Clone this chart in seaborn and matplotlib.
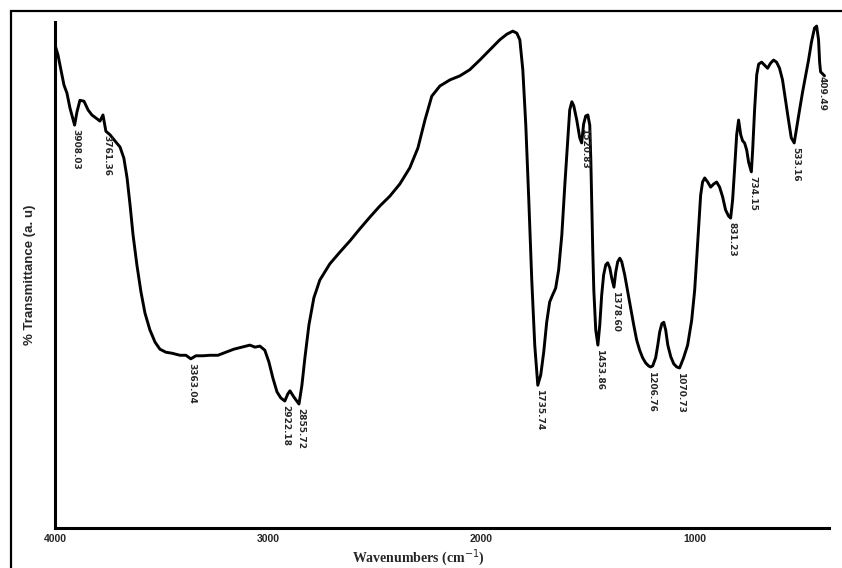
import matplotlib
matplotlib.use("Agg")
import matplotlib.pyplot as plt
import seaborn as sns
import pandas as pd
from matplotlib.patches import Rectangle

# FTIR spectrum: wavenumber (cm-1) and transmittance (a.u.)
wavenumber = [
    4000, 3986, 3972, 3958, 3944, 3930, 3908.03, 3897, 3883, 3864, 3845, 3827,
    3808, 3789, 3775, 3761.36, 3742, 3719, 3695, 3677, 3662, 3648, 3634, 3616,
    3597, 3578, 3555, 3531, 3508, 3480, 3451, 3414, 3386, 3363.04, 3339, 3306,
    3273, 3236, 3198, 3161, 3123, 3086, 3062, 3039, 3016, 2997, 2978, 2959,
    2941, 2922.18, 2908, 2898, 2880, 2855.72, 2842, 2828, 2809, 2786, 2758,
    2711, 2664, 2617, 2570, 2523, 2476, 2430, 2383, 2336, 2298, 2265, 2233,
    2195, 2148, 2101, 2055, 2008, 1961, 1914, 1881, 1853, 1834, 1820, 1806,
    1792, 1778, 1764, 1750, 1735.74, 1722, 1708, 1694, 1680, 1666, 1652, 1638,
    1623, 1609, 1595, 1586, 1576, 1567, 1553, 1539, 1530, 1520.83, 1511, 1501,
    1492, 1487, 1483, 1478, 1473, 1464, 1453.86, 1445, 1436, 1427, 1417, 1408,
    1398, 1389, 1378.60, 1370, 1361, 1351, 1342, 1328, 1314, 1300, 1286, 1272,
    1258, 1244, 1230, 1216, 1206.76, 1197, 1183, 1173, 1164, 1154, 1145, 1136,
    1126, 1112, 1098, 1084, 1070.73, 1052, 1033, 1014, 1000, 991, 981, 972,
    963, 953, 939, 925, 911, 897, 883, 869, 855, 841, 831.23, 822, 813, 803,
    794, 784, 775, 766, 756, 747, 734.15, 728, 719, 709, 700, 686, 672, 658,
    644, 630, 616, 602, 588, 574, 560, 547, 533.16, 522, 508, 494, 480, 466,
    452, 438, 428, 419, 414, 409.49, 400, 391,
]
transmittance = [
    95.5, 93.5, 90.6, 87.6, 86.0, 83.1, 79.7, 82.3, 84.6, 84.4, 82.7, 81.7,
    81.1, 80.5, 81.7, 78.5, 77.8, 76.6, 75.4, 73.2, 69.3, 64.0, 58.1, 52.2,
    46.9, 42.7, 39.4, 37.0, 35.6, 35.0, 34.8, 34.4, 34.4, 33.7, 34.3, 34.3,
    34.4, 34.4, 35.0, 35.6, 36.0, 36.4, 36.0, 36.2, 35.4, 33.1, 29.9, 27.2,
    26.0, 25.4, 26.8, 27.4, 26.2, 24.8, 28.5, 33.9, 40.4, 45.7, 49.2,
    52.4, 54.7, 56.9, 59.3, 61.6, 63.8, 65.7, 68.1, 71.3, 75.2, 80.7, 85.4,
    87.4, 88.6, 89.4, 90.6, 92.5, 94.5, 96.5, 97.6, 98.2, 97.8, 96.5, 90.6,
    79.7, 65.0, 49.2, 36.4, 28.5, 30.5, 35.0, 40.9, 44.9, 46.3, 47.6, 51.2,
    58.1, 67.9, 76.8, 82.7, 84.3, 83.5, 80.7, 77.2, 76.2, 79.9, 81.5, 81.7,
    79.7, 72.8, 65.0, 55.1, 47.2, 39.4, 36.4, 40.4, 46.3, 50.2, 52.2, 52.6,
    51.6, 49.6, 47.8, 50.8, 52.8, 53.5, 52.8, 50.2, 46.9, 43.7, 40.4, 37.4,
    35.4, 33.9, 32.9, 32.3, 32.1, 32.3, 33.9, 36.4, 39.0, 40.6, 40.9, 39.4,
    36.4, 34.1, 32.7, 32.1, 31.9, 33.9, 36.4, 41.3, 47.2, 53.1, 60.0, 65.9,
    68.5, 69.3, 68.5, 67.5, 68.1, 68.5, 67.5, 65.6, 63.0, 61.8, 61.4, 65.0,
    70.9, 77.8, 80.7, 77.8, 76.6, 76.2, 74.8, 72.4, 70.5, 74.8, 82.7, 89.6,
    91.7, 92.1, 91.5, 90.9, 91.9, 92.5, 92.1, 90.9, 88.6, 84.6, 80.7, 77.2,
    76.2, 79.1, 82.7, 86.2, 89.4, 92.5, 96.1, 98.8, 99.2, 96.5, 92.1, 90.2,
    89.8, 89.4,
]

# Annotated band positions (cm-1)
peak_positions = [
    3908.03, 3761.36, 3363.04, 2922.18, 2855.72, 1735.74, 1520.83, 1453.86,
    1378.60, 1206.76, 1070.73, 831.23, 734.15, 533.16, 409.49,
]
peak_labels = [f"{p:.2f}" for p in peak_positions]

x_ticks = [4000, 3000, 2000, 1000]

df = pd.DataFrame({"wavenumber": wavenumber, "transmittance": transmittance})

sns.set_style("white")
fig = plt.figure(figsize=(8.42, 5.68), dpi=100)
ax = fig.add_axes([55 / 842, 1 - 528 / 568, 774 / 842, 506 / 568])

sns.lineplot(data=df, x="wavenumber", y="transmittance", sort=False,
             color="black", linewidth=2.1, ax=ax)

ax.set_xlim(4000, 370)
ax.set_ylim(0.4, 100)

lookup = dict(zip(wavenumber, transmittance))
for pos, lab in zip(peak_positions, peak_labels):
    ax.annotate(lab, xy=(pos, lookup[pos]), xytext=(1, -3),
                textcoords="offset points", rotation=270,
                ha="center", va="top", fontsize=6.5, fontweight="bold",
                family="Liberation Sans Narrow")

ax.set_xticks(x_ticks)
ax.set_xticklabels([str(t) for t in x_ticks], fontsize=7.5,
                   fontweight="bold", family="Liberation Sans")
ax.set_yticks([])
ax.tick_params(axis="x", length=0, pad=4)

for side in ("top", "right"):
    ax.spines[side].set_visible(False)
for side in ("left", "bottom"):
    ax.spines[side].set_linewidth(2.2)
    ax.spines[side].set_color("black")

ax.set_xlabel("Wavenumbers (cm$^{-1}$)", fontsize=10, fontweight="bold",
              family="Liberation Serif")
ax.set_ylabel("% Transmittance (a. u)", fontsize=9.5, fontweight="bold",
              family="Liberation Sans", labelpad=14)
ax.xaxis.set_label_coords(0.47, -0.037)

# outer frame of the figure
fig.patches.append(Rectangle((11 / 842, -0.05), 1.2, 1 - 11 / 568 + 0.05,
                             transform=fig.transFigure, fill=False,
                             edgecolor="black", linewidth=1.6))

fig.savefig("out.png", dpi=100)
